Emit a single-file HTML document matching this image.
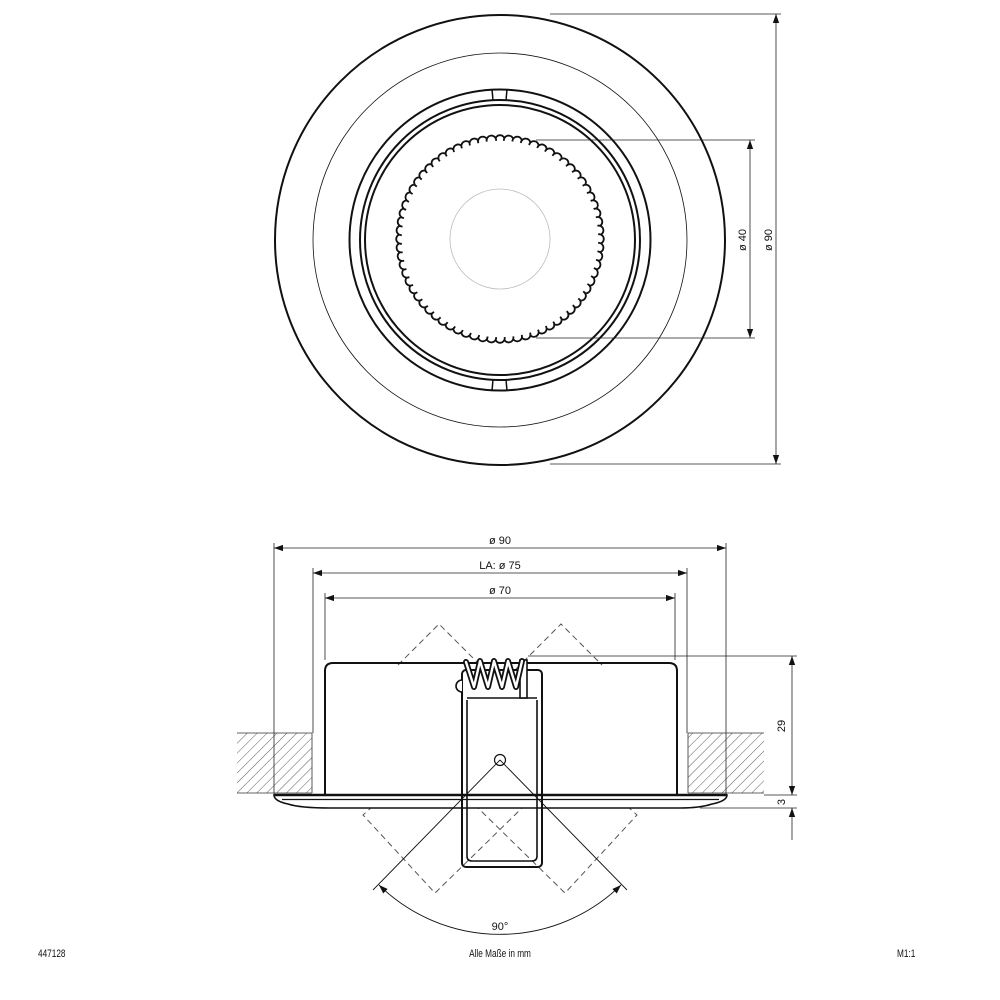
<!DOCTYPE html>
<html><head><meta charset="utf-8"><style>
html,body{margin:0;padding:0;background:#fff}
svg{display:block}
text{font-family:"Liberation Sans",sans-serif;fill:#111}
</style></head><body>
<svg width="1000" height="1000" viewBox="0 0 1000 1000" xmlns="http://www.w3.org/2000/svg">
<defs>
<pattern id="h" width="7" height="7" patternUnits="userSpaceOnUse" patternTransform="rotate(45)">
<line x1="0" y1="0" x2="0" y2="7" stroke="#333" stroke-width="0.8"/>
</pattern>
<marker id="a" viewBox="0 0 10 10" refX="10" refY="5" markerWidth="9" markerHeight="9" orient="auto-start-reverse" markerUnits="userSpaceOnUse"><path d="M0,1.5 L10,5 L0,8.5z" fill="#111"/></marker>
<circle id="s0" cx="0" cy="-99" r="4.8" fill="#fff" stroke="#111" stroke-width="1.8"/>
<g id="s1"><use href="#s0"/><use href="#s0" transform="rotate(5)"/></g>
<g id="s2"><use href="#s1"/><use href="#s1" transform="rotate(10)"/></g>
<g id="s3"><use href="#s2"/><use href="#s2" transform="rotate(20)"/></g>
</defs>

<!-- TOP VIEW -->
<g fill="none" stroke="#111">
<circle cx="500" cy="240" r="225" stroke-width="2"/>
<circle cx="500" cy="240" r="187" stroke-width="0.8"/>
<circle cx="500" cy="240" r="150.5" stroke-width="2"/>
<circle cx="500" cy="240" r="140" stroke-width="2"/>
<circle cx="500" cy="240" r="135" stroke-width="2"/>
<path d="M492,89.5 L493,100 M507,89.5 L506,100 M492,390.5 L493,380 M507,390.5 L506,380" stroke-width="1.5"/>
</g>
<rect x="493.5" y="91" width="12" height="8" fill="#fff"/>
<rect x="493.5" y="381" width="12" height="8" fill="#fff"/>
<g transform="translate(500,239)">
<use href="#s3"/><use href="#s3" transform="rotate(40)"/><use href="#s3" transform="rotate(80)"/>
<use href="#s3" transform="rotate(120)"/><use href="#s3" transform="rotate(160)"/><use href="#s3" transform="rotate(200)"/>
<use href="#s3" transform="rotate(240)"/><use href="#s3" transform="rotate(280)"/><use href="#s3" transform="rotate(320)"/>
<circle cx="0" cy="0" r="98.3" fill="#fff"/>
</g>
<circle cx="500" cy="239" r="50" fill="none" stroke="#bbb" stroke-width="0.8"/>

<g stroke="#222" stroke-width="0.8" fill="none">
<line x1="536" y1="140" x2="755" y2="140"/>
<line x1="536" y1="338" x2="755" y2="338"/>
<line x1="750" y1="140" x2="750" y2="338" marker-start="url(#a)" marker-end="url(#a)"/>
<line x1="550" y1="14" x2="781" y2="14"/>
<line x1="550" y1="464" x2="781" y2="464"/>
<line x1="776" y1="14" x2="776" y2="464" marker-start="url(#a)" marker-end="url(#a)"/>
</g>
<text transform="translate(746,240) rotate(-90)" font-size="11" text-anchor="middle">ø 40</text>
<text transform="translate(772,240) rotate(-90)" font-size="11" text-anchor="middle">ø 90</text>

<!-- SIDE VIEW -->
<rect x="237" y="733" width="75" height="60" fill="url(#h)"/>
<rect x="688" y="733" width="76" height="60" fill="url(#h)"/>
<path d="M237,733 H312 V793 M237,793 H312 M688,793 V733 H764 M688,793 H764" fill="none" stroke="#333" stroke-width="0.8"/>

<g fill="none" stroke="#555" stroke-width="1" stroke-dasharray="6,4">
<path d="M398,665 L439,624 L484,669"/>
<path d="M516,669 L561,624 L602,665"/>
<path d="M373,806 L363,815 L435,893 L522,808"/>
<path d="M627,806 L637,815 L565,893 L478,808"/>
</g>

<path d="M325,795 V671 Q325,663 333,663 H669 Q677,663 677,671 V795" fill="none" stroke="#111" stroke-width="2"/>
<path d="M274,795 H727 Q727,801 712,804 Q700,808 680,808 H330 Q300,808 288,804 Q274,801 274,795 Z" fill="#fff" stroke="#111" stroke-width="1.6"/>
<line x1="274" y1="795" x2="727" y2="795" stroke="#111" stroke-width="2.4"/>
<line x1="282" y1="799.5" x2="719" y2="799.5" stroke="#111" stroke-width="1.2"/>

<!-- clip -->
<rect x="462" y="670" width="80" height="197" rx="4" fill="none" stroke="#111" stroke-width="2"/>
<path d="M467,700 V856 Q467,861 472,861 H532 Q537,861 537,856 V700" fill="none" stroke="#111" stroke-width="1.6"/>
<line x1="467" y1="698" x2="537" y2="698" stroke="#111" stroke-width="1.6"/>
<path d="M462,680 A6,6 0 0 0 462,692" fill="#fff" stroke="#111" stroke-width="1.6"/>
<rect x="520" y="660" width="7" height="38" fill="#fff" stroke="#111" stroke-width="1.6"/>
<!-- spring -->
<g fill="none" stroke-linejoin="round" stroke-linecap="round">
<path d="M466,662 L474,687 L480,661 L488,687 L494,661 L502,687 L508,661 L516,687 L522,661" stroke="#111" stroke-width="6"/>
<path d="M466,662 L474,687 L480,661 L488,687 L494,661 L502,687 L508,661 L516,687 L522,661" stroke="#fff" stroke-width="2.4"/>
</g>
<circle cx="500" cy="760" r="5.5" fill="#fff" stroke="#111" stroke-width="1.2"/>
<g fill="none" stroke="#111" stroke-width="0.9">
<line x1="500" y1="760" x2="373" y2="890"/>
<line x1="500" y1="760" x2="627" y2="890"/>
<path d="M379,885 A173,173 0 0 0 621,885" marker-start="url(#a)" marker-end="url(#a)"/>
</g>
<text x="500" y="930" font-size="11" text-anchor="middle">90°</text>

<g stroke="#222" stroke-width="0.8" fill="none">
<line x1="274" y1="543" x2="274" y2="795"/>
<line x1="726" y1="543" x2="726" y2="795"/>
<line x1="274" y1="548" x2="726" y2="548" marker-start="url(#a)" marker-end="url(#a)"/>
<line x1="313" y1="568" x2="313" y2="733"/>
<line x1="687" y1="568" x2="687" y2="733"/>
<line x1="313" y1="573" x2="687" y2="573" marker-start="url(#a)" marker-end="url(#a)"/>
<line x1="325" y1="593" x2="325" y2="660"/>
<line x1="675" y1="593" x2="675" y2="660"/>
<line x1="325" y1="598" x2="675" y2="598" marker-start="url(#a)" marker-end="url(#a)"/>
<line x1="528" y1="656" x2="797" y2="656"/>
<line x1="764" y1="795" x2="797" y2="795"/>
<line x1="700" y1="808" x2="797" y2="808"/>
<line x1="792" y1="656" x2="792" y2="795" marker-start="url(#a)" marker-end="url(#a)"/>
<line x1="792" y1="840" x2="792" y2="808" marker-end="url(#a)"/>
</g>
<text x="500" y="544" font-size="11" text-anchor="middle">ø 90</text>
<text x="500" y="569" font-size="11" text-anchor="middle">LA: ø 75</text>
<text x="500" y="594" font-size="11" text-anchor="middle">ø 70</text>
<text transform="translate(785,726) rotate(-90)" font-size="11" text-anchor="middle">29</text>
<text transform="translate(785,802) rotate(-90)" font-size="11" text-anchor="middle">3</text>

<text transform="translate(38,957) scale(0.75,1)" font-size="11">447128</text>
<text transform="translate(500,957) scale(0.75,1)" font-size="11" text-anchor="middle">Alle Maße in mm</text>
<text transform="translate(897,957) scale(0.75,1)" font-size="11">M1:1</text>
</svg>
</body></html>
